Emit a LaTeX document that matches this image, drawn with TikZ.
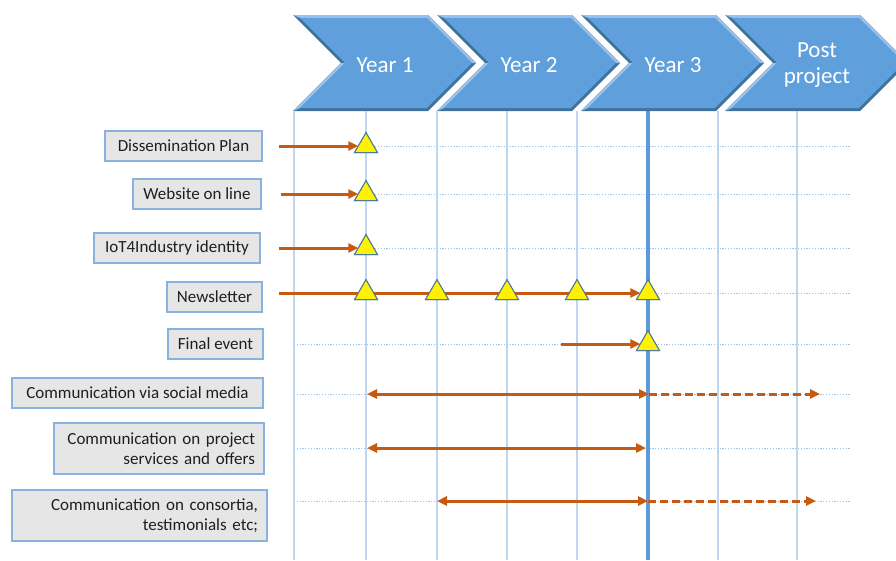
\documentclass[tikz,border=0pt]{standalone}
\usepackage{fontspec}
\setmainfont{Carlito}
\usetikzlibrary{shapes.geometric,arrows.meta}

\definecolor{chevfill}{HTML}{5FA0DC}
\definecolor{chevdark}{HTML}{41719C}
\definecolor{chevlight}{HTML}{94C2EC}
\definecolor{gridblue}{HTML}{BDD7EE}
\definecolor{rowblue}{HTML}{9DC3E6}
\definecolor{nowblue}{HTML}{5B9BD5}
\definecolor{barorange}{HTML}{C55A11}
\definecolor{boxgray}{HTML}{E7E6E6}
\definecolor{boxedge}{HTML}{8AB2DE}
\definecolor{tribord}{HTML}{4D7A9C}
\definecolor{txtdark}{HTML}{1F1F1F}

\tikzset{
  yeartext/.style={text=white, font=\fontsize{23}{26}\selectfont, align=center, inner sep=0pt},
  lbl/.style={draw=boxedge, fill=boxgray, line width=1.6pt, inner xsep=9pt, inner ysep=0pt,
    minimum height=30pt, font=\fontsize{17}{20}\selectfont, text=txtdark},
  milestone/.style={regular polygon, regular polygon sides=3, minimum size=26.6pt,
    inner sep=0pt, outer sep=0pt, fill=yellow, draw=tribord, line width=1pt},
  gridline/.style={gridblue, line width=1.6pt},
  rowline/.style={rowblue, line width=1pt, dash pattern=on 1.2pt off 1.6pt},
  nowline/.style={nowblue, line width=3.2pt},
  bar/.style={barorange, line width=3pt, -{Triangle[length=10pt,width=9pt]}},
  twobar/.style={barorange, line width=3pt, {Triangle[length=10pt,width=9pt]}-{Triangle[length=10pt,width=9pt]}},
  dashbar/.style={barorange, line width=3pt, dash pattern=on 8pt off 4pt, -{Triangle[length=10pt,width=9pt]}}
}

% one beveled chevron of the timeline header; #1 left edge, #2 node name, #3 label
\newcommand\timechevron[3]{%
  \begin{scope}[shift={(#1,0)}]
    \fill[chevdark] (0,15) -- (135,15) -- (183,63) -- (135,111) -- (0,111) -- (48,63) -- cycle;
    \fill[chevlight] (0,15) -- (135,15) -- (183,63) -- (178.8,63) -- (133.8,18) -- (7.2,18) -- cycle;
    \fill[chevlight] (48,63) -- (0,111) -- (7.2,108) -- (52.2,63) -- cycle;
    \fill[chevfill] (7.2,18) -- (133.8,18) -- (178.8,63) -- (133.8,108) -- (7.2,108) -- (52.2,63) -- cycle;
    \node[yeartext] (#2) at (92,65.5) {#3};
  \end{scope}}

\begin{document}
\begin{tikzpicture}[x=1pt, y=-1pt]
  \useasboundingbox (0,0) rectangle (896,560);
  \clip (0,0) rectangle (896,560);

  % header
  \timechevron{293}{y1}{Year 1}
  \timechevron{437}{y2}{Year 2}
  \timechevron{581}{y3}{Year 3}
  \timechevron{725}{yp}{Post\\project}

  % vertical grid
  \foreach \gx in {294,366,437,507,577,718,797}
    \draw[gridline] (\gx,111) -- (\gx,560);

  % horizontal row guides
  \foreach \gy in {146,194,248,293,344,394,448,501}
    \draw[rowline] (294,\gy) -- (851,\gy);

  % end of project marker
  \draw[nowline] (648,111) -- (648,560);

  % activity labels
  \node[lbl, minimum width=157pt] (dp)  at (183.5,146) {Dissemination Plan};
  \node[lbl, minimum width=128pt] (web) at (197,194)   {Website on line};
  \node[lbl, minimum width=166pt] (ide) at (177,248)   {IoT4Industry identity};
  \node[lbl, minimum width=95pt]  (nl)  at (214.5,297) {Newsletter};
  \node[lbl, minimum width=95pt]  (fe)  at (215.5,344) {Final event};
  \node[lbl, minimum width=251pt] (sm)  at (137.5,393) {Communication via social media};
  \node[lbl, minimum height=51pt, text width=192pt, align=right] (ps) at (159,448.5)
    {Communication on project\\services and offers};
  \node[lbl, minimum height=51pt, text width=237pt, align=right] (ct) at (139.5,515.5)
    {Communication on consortia,\\testimonials etc;};

  % bar end points
  \coordinate (s1) at (279,146);
  \coordinate (s2) at (281,194);
  \coordinate (s3) at (279,248);
  \coordinate (s4) at (279,293);
  \coordinate (s5) at (561,344);
  \coordinate (a6) at (367,394);
  \coordinate (b6) at (649,394);
  \coordinate (e6) at (820,394);
  \coordinate (a7) at (367,448);
  \coordinate (b7) at (646,448);
  \coordinate (a8) at (437,501);
  \coordinate (b8) at (648,501);
  \coordinate (e8) at (816,501);

  % milestones (placed first so the bars can aim at them)
  \path (366,146) node[milestone] (m1) {}
        (366,194) node[milestone] (m2) {}
        (366,248) node[milestone] (m3) {}
        (366,293) node[milestone] (n1) {}
        (437,293) node[milestone] (n2) {}
        (507,293) node[milestone] (n3) {}
        (577,293) node[milestone] (n4) {}
        (648,293) node[milestone] (n5) {}
        (648,344) node[milestone] (m5) {};

  % bars
  \draw[bar] (s1) -- (m1.west);
  \draw[bar] (s2) -- (m2.west);
  \draw[bar] (s3) -- (m3.west);
  \draw[bar] (s4) -- (n5.west);
  \draw[bar] (s5) -- (m5.west);
  \draw[twobar] (a6) -- (b6);
  \draw[dashbar] (b6) -- (e6);
  \draw[twobar] (a7) -- (b7);
  \draw[twobar] (a8) -- (b8);
  \draw[dashbar] (b8) -- (e8);

  % milestones drawn again on top of the bars
  \foreach \m in {m1,m2,m3,n1,n2,n3,n4,n5,m5}
    \node[milestone] at (\m.center) {};
\end{tikzpicture}
\end{document}
